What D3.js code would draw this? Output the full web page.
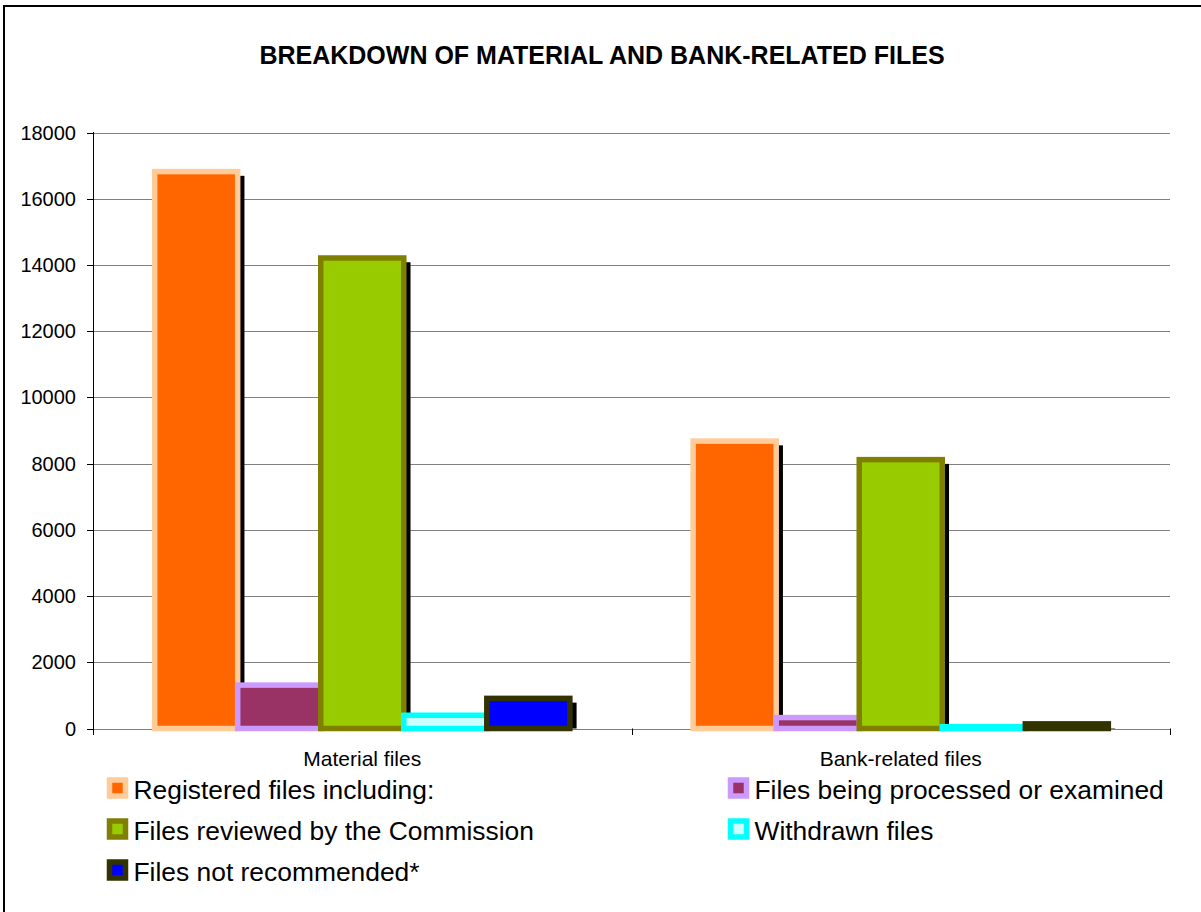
<!DOCTYPE html>
<html>
<head>
<meta charset="utf-8">
<script src="https://cdn.jsdelivr.net/npm/d3@7"></script>
<style>
  html, body { margin: 0; padding: 0; background: #fff; }
  svg { display: block; font-family: "Liberation Sans", Arial, sans-serif; }
</style>
</head>
<body>
<svg id="chart" width="1201" height="912"></svg>
<script>
// Chart data
const categories = ["Material files", "Bank-related files"];
const seriesNames = [
  "Registered files including:",
  "Files being processed or examined",
  "Files reviewed by the Commission",
  "Withdrawn files",
  "Files not recommended*"
];
const registered = [16820, 8680];
const processing = [1310, 330];
const reviewed = [14210, 8120];
const withdrawn = [400, 55];
const notRecommended = [910, 140];
const yTicks = [0, 2000, 4000, 6000, 8000, 10000, 12000, 14000, 16000, 18000];

const seriesValues = [registered, processing, reviewed, withdrawn, notRecommended];
const fills = ["#FF6600", "#993366", "#99CC00", "#CCFFFF", "#0000FF"];
const strokes = ["#FFCC99", "#CC99FF", "#808000", "#00FFFF", "#333300"];

const svg = d3.select("#chart");

// Outer frame
svg.append("rect")
  .attr("x", 4).attr("y", 6).attr("width", 1210).attr("height", 920)
  .attr("fill", "none").attr("stroke", "#000").attr("stroke-width", 2);

// Title
svg.append("text")
  .attr("x", 602).attr("y", 64)
  .attr("text-anchor", "middle")
  .attr("font-weight", "bold").attr("font-size", 25)
  .text("BREAKDOWN OF MATERIAL AND BANK-RELATED FILES");

const plotLeft = 93, plotRight = 1170, baseline = 728.5, plotTop = 132.5;

const y = d3.scaleLinear().domain([0, 18000]).range([baseline, plotTop]);
const x0 = d3.scaleBand().domain(categories).range([plotLeft, plotRight])
  .paddingInner(0.229).paddingOuter(0.1145);
const x1 = d3.scaleBand().domain(d3.range(seriesNames.length)).range([0, x0.bandwidth()]);

// Gridlines
svg.append("g").selectAll("line").data(yTicks).join("line")
  .attr("x1", plotLeft).attr("x2", plotRight)
  .attr("y1", d => Math.round(y(d)) + 0.5).attr("y2", d => Math.round(y(d)) + 0.5)
  .attr("stroke", "#808080").attr("stroke-width", 1);

// Bars with drop shadows
const sw = 5.5;
const clipId = "plotClip";
svg.append("clipPath").attr("id", clipId).append("rect")
  .attr("x", 0).attr("y", 0).attr("width", 1201).attr("height", baseline);

const barsG = svg.append("g");
seriesValues.forEach((vals, si) => {
  categories.forEach((cat, ci) => {
    const bx = x0(cat) + x1(si);
    const bw = x1.bandwidth();
    const by = y(vals[ci]);
    const bh = baseline - by;
    barsG.append("rect")
      .attr("clip-path", `url(#${clipId})`)
      .attr("x", bx - sw / 2 + 4).attr("y", by - sw / 2 + 7)
      .attr("width", bw + sw).attr("height", bh + sw)
      .attr("fill", "#000");
    barsG.append("rect")
      .attr("x", bx).attr("y", by)
      .attr("width", bw).attr("height", bh)
      .attr("fill", fills[si])
      .attr("stroke", strokes[si]).attr("stroke-width", sw);
  });
});

// Y axis
const yAxisG = svg.append("g");
yAxisG.append("line")
  .attr("x1", plotLeft + 0.5).attr("x2", plotLeft + 0.5)
  .attr("y1", plotTop - 0.5).attr("y2", baseline + 6)
  .attr("stroke", "#000");
yAxisG.selectAll("line.tick").data(yTicks).join("line").attr("class", "tick")
  .attr("x1", plotLeft - 6).attr("x2", plotLeft)
  .attr("y1", d => Math.round(y(d)) + 0.5).attr("y2", d => Math.round(y(d)) + 0.5)
  .attr("stroke", "#000");
yAxisG.selectAll("text").data(yTicks).join("text")
  .attr("x", 76).attr("y", d => y(d) + 7)
  .attr("text-anchor", "end").attr("font-size", 20)
  .text(d => d);

// Category axis ticks and labels
const catBounds = [plotLeft, ...categories.slice(1).map(c => x0(c) - x0.step() * x0.paddingInner() / 2), plotRight];
svg.append("g").selectAll("line").data(catBounds).join("line")
  .attr("x1", d => Math.round(d) + 0.5).attr("x2", d => Math.round(d) + 0.5)
  .attr("y1", baseline).attr("y2", baseline + 6.5)
  .attr("stroke", "#000");
svg.append("g").selectAll("text").data(categories).join("text")
  .attr("x", d => x0(d) + x0.bandwidth() / 2).attr("y", 766)
  .attr("text-anchor", "middle").attr("font-size", 21)
  .text(d => d);

// Legend
const legendPos = [
  [109.5, 780], [730.5, 780],
  [109.5, 821], [730.5, 821],
  [109.5, 862]
];
const legend = svg.append("g");
seriesNames.forEach((name, i) => {
  const [lx, ly] = legendPos[i];
  legend.append("rect")
    .attr("x", lx).attr("y", ly).attr("width", 16).attr("height", 16)
    .attr("fill", fills[i]).attr("stroke", strokes[i]).attr("stroke-width", sw);
  legend.append("text")
    .attr("x", lx + 24).attr("y", ly + 19)
    .attr("font-size", 26.4)
    .text(name);
});
</script>
</body>
</html>
